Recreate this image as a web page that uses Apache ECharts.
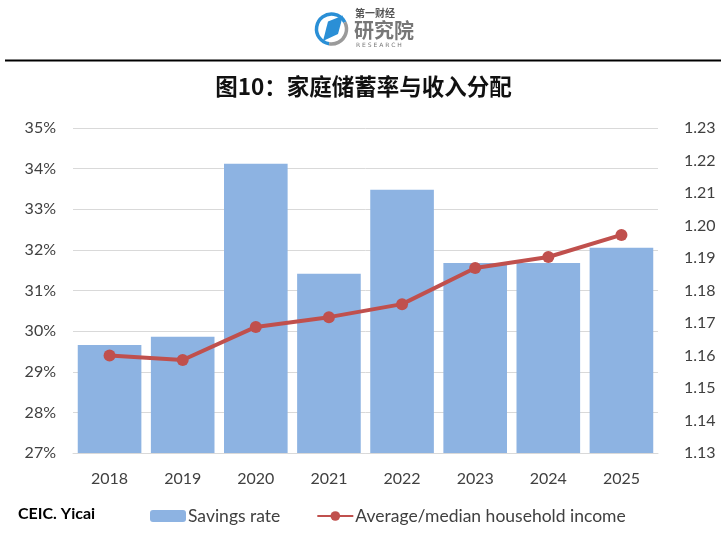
<!DOCTYPE html>
<html>
<head>
<meta charset="utf-8">
<script src="https://cdn.jsdelivr.net/npm/echarts@6/dist/echarts.min.js"></script>
<style>html,body{margin:0;padding:0;background:#fff}#c{width:727px;height:540px}</style>
</head>
<body>
<div id="c"></div>
<script>
var categories = ['2018', '2019', '2020', '2021', '2022', '2023', '2024', '2025'];
var savingsRate = [29.66, 29.86, 34.12, 31.41, 33.48, 31.68, 31.68, 32.05];
var incomeRatio = [1.160, 1.1586, 1.1688, 1.1718, 1.1758, 1.1869, 1.1903, 1.1971];
var titleText = '图10：家庭储蓄率与收入分配';
var sourceText = 'CEIC. Yicai';
var seriesNames = ['Savings rate', 'Average/median household income'];

var chart = echarts.init(document.getElementById('c'));
var labelFont = 'Lato, "Open Sans", sans-serif';
chart.setOption({
  animation: false,
  backgroundColor: '#fff',
  grid: { left: 73, right: 69, top: 128, bottom: 87 },
  legend: {
    left: 145, top: 502,
    itemWidth: 36, itemHeight: 12, itemGap: 36,
    textStyle: { fontFamily: labelFont, fontSize: 17.5, color: '#404040', padding: [0, 0, 0, -3] },
    data: seriesNames
  },
  xAxis: {
    type: 'category',
    data: categories,
    axisLine: { lineStyle: { color: '#D9D9D9', width: 1 } },
    axisTick: { show: false },
    axisLabel: { fontFamily: labelFont, fontSize: 16, color: '#404040', margin: 18 }
  },
  yAxis: [{
    type: 'value', min: 27, max: 35, interval: 1,
    axisLine: { show: false }, axisTick: { show: false },
    splitLine: { lineStyle: { color: '#D9D9D9', width: 1 } },
    axisLabel: { formatter: '{value}%', fontFamily: labelFont, fontSize: 16, color: '#404040', margin: 17 }
  }, {
    type: 'value', min: 1.13, max: 1.23, interval: 0.01,
    axisLine: { show: false }, axisTick: { show: false }, splitLine: { show: false },
    axisLabel: { formatter: function (v) { return v.toFixed(2); }, fontFamily: labelFont, fontSize: 16, color: '#404040', margin: 26 }
  }],
  series: [{
    name: seriesNames[0], type: 'bar', data: savingsRate,
    barCategoryGap: '13%',
    itemStyle: { color: '#8DB3E2' }
  }, {
    name: seriesNames[1], type: 'line', yAxisIndex: 1, data: incomeRatio,
    symbol: 'circle', symbolSize: 12,
    lineStyle: { color: '#C0504D', width: 4 },
    itemStyle: { color: '#C0504D' }
  }],
  graphic: [
    { type: 'line', shape: { x1: 5, y1: 60.5, x2: 721, y2: 60.5 }, style: { stroke: '#000', lineWidth: 2 } },
    { type: 'text', left: 'center', top: 75, style: { text: titleText, font: 'bold 22.5px "Noto Sans CJK SC", serif', fill: '#111' } },
    { type: 'text', left: 18, top: 506, style: { text: sourceText, font: 'bold 16px Lato, "Open Sans", sans-serif', fill: '#000' } },
    { type: 'arc', shape: { cx: 331.5, cy: 29, r: 15, startAngle: Math.PI * 0.55, endAngle: Math.PI * 1.85 }, style: { stroke: '#2A8FD6', lineWidth: 3.5, fill: null } },
    { type: 'arc', shape: { cx: 331.5, cy: 29, r: 15, startAngle: -Math.PI * 0.15, endAngle: Math.PI * 0.55 }, style: { stroke: '#9A9A9A', lineWidth: 3.5, fill: null } },
    { type: 'polygon', shape: { points: [[328, 21.5], [343, 15.5], [338, 34], [323, 41]] }, style: { fill: '#2A8FD6' } },
    { type: 'text', left: 355, top: 8, style: { text: '第一财经', font: 'bold 10px "Noto Sans CJK SC"', fill: '#555' } },
    { type: 'text', left: 354, top: 20, style: { text: '研究院', font: 'bold 20px "Noto Sans CJK SC"', fill: '#777' } },
    { type: 'text', left: 356, top: 42, style: { text: 'R E S E A R C H', font: '6px "DejaVu Sans"', fill: '#777' } }
  ]
});
</script>
</body>
</html>
